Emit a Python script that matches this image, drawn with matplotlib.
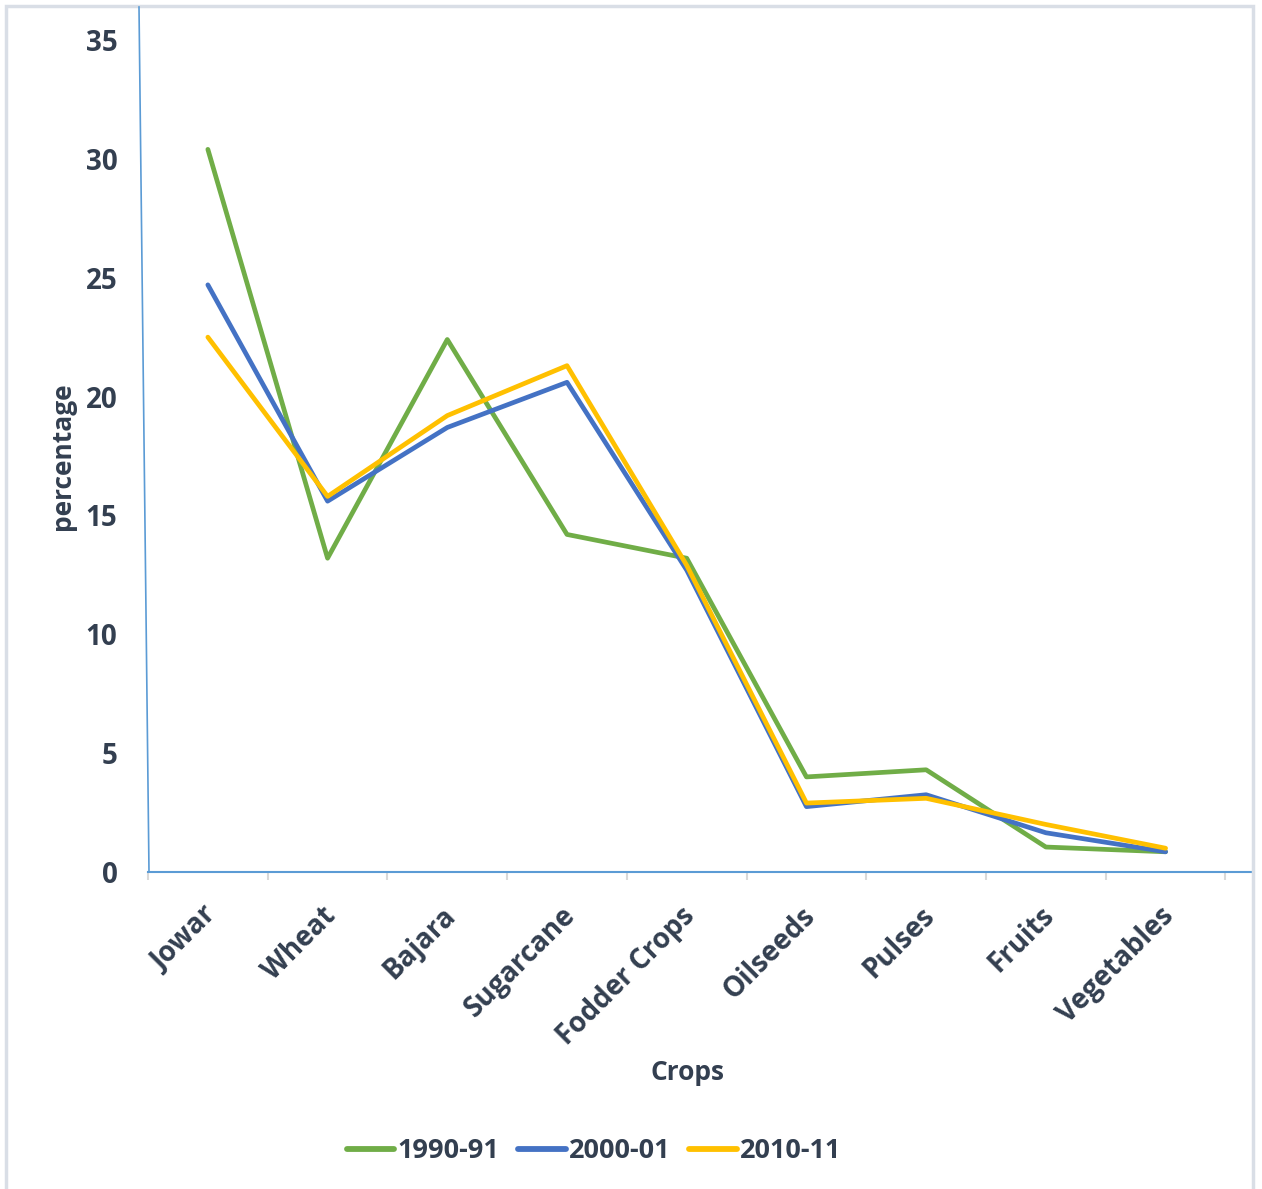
import matplotlib
matplotlib.use("Agg")
import matplotlib.pyplot as plt
import matplotlib.transforms as mtrans
from matplotlib.lines import Line2D
from matplotlib.patches import Rectangle

crops = ['Jowar', 'Wheat', 'Bajara', 'Sugarcane', 'Fodder Crops',
         'Oilseeds', 'Pulses', 'Fruits', 'Vegetables']
y1990 = [30.4, 13.2, 22.4, 14.2, 13.2, 4.0, 4.3, 1.05, 0.85]
y2000 = [24.7, 15.6, 18.7, 20.6, 12.7, 2.75, 3.25, 1.65, 0.85]
y2010 = [22.5, 15.8, 19.2, 21.3, 12.9, 2.9, 3.1, 2.0, 1.0]
years = ['1990-91', '2000-01', '2010-11']
colors = ['#70AD47', '#4472C4', '#FFC000']
yticks = [0, 5, 10, 15, 20, 25, 30, 35]

W, H = 1262, 1189
txt = '#333F50'
plt.rcParams['font.family'] = ['Open Sans', 'DejaVu Sans']
plt.rcParams['font.weight'] = 'bold'

fig = plt.figure(figsize=(W / 100, H / 100), dpi=100)
ax = fig.add_axes([148 / W, 1 - 872 / H, (1253 - 148) / W, 832 / H])

x = list(range(len(crops)))
for vals, lab, c in zip([y1990, y2000, y2010], years, colors):
    ax.plot(x, vals, color=c, lw=3.4, label=lab,
            solid_capstyle='round', solid_joinstyle='round', clip_on=False)

ax.set_xlim(-0.5, (1253 - 208) / 119.7)
ax.set_ylim(0, 35)
ax.set_yticks(yticks)
ax.set_xticks(x)
ax.set_xticklabels(crops, rotation=45, ha='right', va='top',
                   rotation_mode='anchor')
ax.set_xticks([i - 0.5 for i in range(len(crops) + 1)], minor=True)
ax.tick_params(axis='x', which='major', length=0, pad=21,
               labelsize=20, labelcolor=txt)
ax.tick_params(axis='x', which='minor', length=6, width=1.5,
               color='#D9D9D9', direction='out')
ax.tick_params(axis='y', length=0, pad=22, labelsize=20, labelcolor=txt)
shift = mtrans.ScaledTranslation(-6 / 100, 0, fig.dpi_scale_trans)
for lab in ax.get_xticklabels():
    lab.set_transform(lab.get_transform() + shift)
for lab in ax.get_xticklabels() + ax.get_yticklabels():
    lab.set_fontweight('bold')

for s in ['top', 'right', 'left']:
    ax.spines[s].set_visible(False)
ax.spines['bottom'].set_color('#5B9BD5')
ax.spines['bottom'].set_linewidth(1.5)

# slanted value axis line
fig.add_artist(Line2D([139 / W, 149 / W], [1 - 7 / H, 1 - 872 / H],
                      color='#5B9BD5', lw=1.2))
# chart border
fig.add_artist(Rectangle((6 / W, -0.01), (1253 - 6) / W, 1 - 6 / H + 0.01,
                         fill=False, edgecolor='#D9DEE6', lw=2.5))

ax.set_ylabel('percentage', fontsize=19, color=txt, fontweight='bold',
              va='center')
ax.yaxis.set_label_coords((63 - 148) / (1253 - 148), 0.5)
fig.text(687 / W, 1 - 1073 / H, 'Crops', ha='center', va='center',
         fontsize=19, color=txt, fontweight='bold')

leg = fig.legend(loc='center', bbox_to_anchor=(594 / W, 1 - 1151 / H),
                 ncol=3, frameon=False, fontsize=19.5, handlelength=1.75,
                 handletextpad=0.12, columnspacing=0.7)
for t in leg.get_texts():
    t.set_color(txt)
    t.set_fontweight('bold')
for ln in leg.get_lines():
    ln.set_linewidth(4.2)
    ln.set_solid_capstyle('round')

fig.savefig('out.png', dpi=100)
